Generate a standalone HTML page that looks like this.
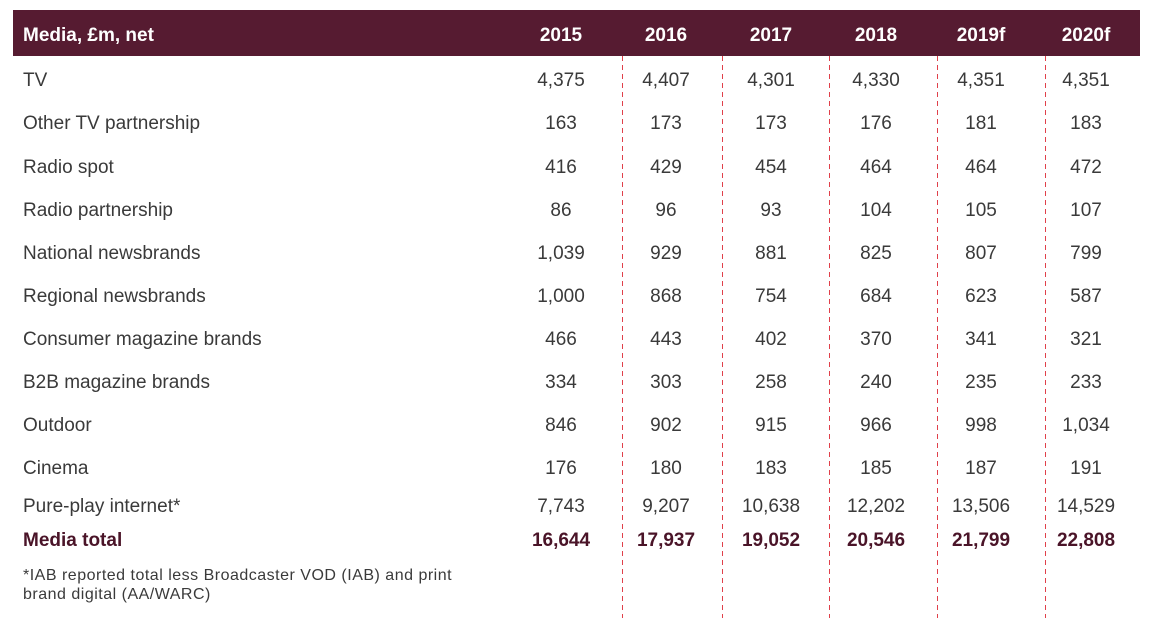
<!DOCTYPE html>
<html><head><style>
body{margin:0;width:1149px;height:618px;background:#fff;position:relative;overflow:hidden;font-family:"Liberation Sans",Arial,sans-serif;}
.hd{position:absolute;left:13px;top:10px;width:1127px;height:46px;background:#561b31;}
.t{position:absolute;white-space:nowrap;transform:translateY(-50%);font-size:19px;color:#3a3a3a;}
.h{color:#fff;font-weight:bold;font-size:19px;}
.c{transform:translate(-50%,-50%);}
.b{font-weight:bold;color:#4a1428;}
.f{position:absolute;left:23px;font-size:16px;letter-spacing:0.5px;color:#3a3a3a;line-height:19px;top:566px;}
svg{position:absolute;left:0;top:0;}
</style></head><body>
<div class="hd"></div>
<svg width="1149" height="618"><g stroke="#e0404a" stroke-width="1" stroke-dasharray="5,4">
<line x1="622.5" y1="56" x2="622.5" y2="618"/><line x1="722.5" y1="56" x2="722.5" y2="618"/><line x1="829.5" y1="56" x2="829.5" y2="618"/><line x1="937.5" y1="56" x2="937.5" y2="618"/><line x1="1045.5" y1="56" x2="1045.5" y2="618"/></g></svg>
<div id="g"></div>
<div class="f">*IAB reported total less Broadcaster VOD (IAB) and print<br>brand digital (AA/WARC)</div>
<script>
var cols=[561,666,771,876,981,1086];
var rows=[
["Media, £m, net",["2015","2016","2017","2018","2019f","2020f"],36,"h"],
["TV",["4,375","4,407","4,301","4,330","4,351","4,351"],81,""],
["Other TV partnership",["163","173","173","176","181","183"],124,""],
["Radio spot",["416","429","454","464","464","472"],168,""],
["Radio partnership",["86","96","93","104","105","107"],211,""],
["National newsbrands",["1,039","929","881","825","807","799"],254,""],
["Regional newsbrands",["1,000","868","754","684","623","587"],297,""],
["Consumer magazine brands",["466","443","402","370","341","321"],340,""],
["B2B magazine brands",["334","303","258","240","235","233"],383,""],
["Outdoor",["846","902","915","966","998","1,034"],426,""],
["Cinema",["176","180","183","185","187","191"],469,""],
["Pure-play internet*",["7,743","9,207","10,638","12,202","13,506","14,529"],507,""],
["Media total",["16,644","17,937","19,052","20,546","21,799","22,808"],541,"b"]];
var h="";
rows.forEach(function(r){
h+='<div class="t '+r[3]+'" style="left:23px;top:'+r[2]+'px">'+r[0]+'</div>';
r[1].forEach(function(v,i){h+='<div class="t c '+r[3]+'" style="left:'+cols[i]+'px;top:'+r[2]+'px">'+v+'</div>';});
});
document.getElementById("g").innerHTML=h;
</script>
</body></html>
